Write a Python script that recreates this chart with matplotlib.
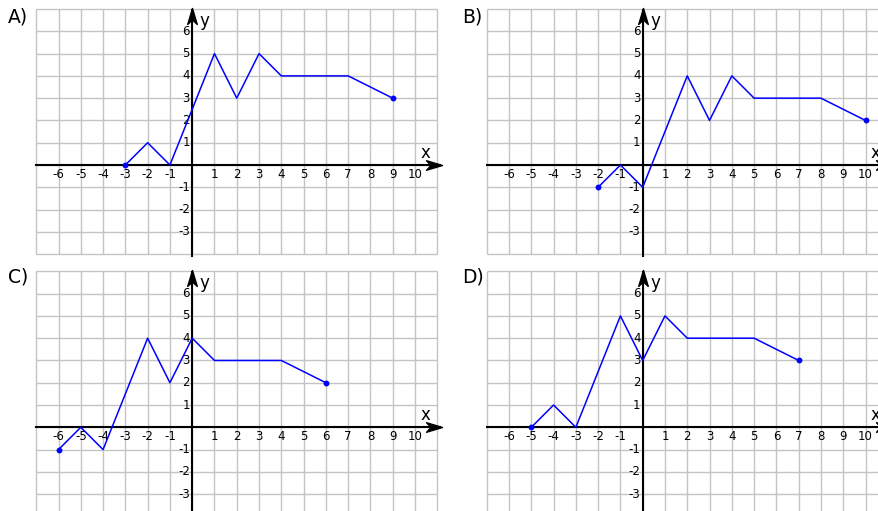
import matplotlib
matplotlib.use("Agg")
import matplotlib.pyplot as plt
import numpy as np
from matplotlib.path import Path

# piecewise-linear graphs, one per answer option
a_x = [-3, -2, -1, 1, 2, 3, 4, 7, 9]
a_y = [0, 1, 0, 5, 3, 5, 4, 4, 3]
b_x = [-2, -1, 0, 2, 3, 4, 5, 8, 10]
b_y = [-1, 0, -1, 4, 2, 4, 3, 3, 2]
c_x = [-6, -5, -4, -2, -1, 0, 1, 4, 6]
c_y = [-1, 0, -1, 4, 2, 4, 3, 3, 2]
d_x = [-5, -4, -3, -1, 0, 1, 2, 5, 7]
d_y = [0, 1, 0, 5, 3, 5, 4, 4, 3]

panel_names = ["A)", "B)", "C)", "D)"]
x_labels = [-6, -5, -4, -3, -2, -1, 1, 2, 3, 4, 5, 6, 7, 8, 9, 10]
y_labels = [-3, -2, -1, 1, 2, 3, 4, 5, 6]

W, H = 879, 511
UNIT = 22.28          # pixels per grid cell
XMIN, XMAX = -7, 11
YMIN, YMAX = -4, 7

# pixel position of the origin of each panel (from the top-left corner)
origins = [(192.2, 165.0), (642.7, 165.0), (192.2, 427.3), (642.7, 427.3)]
label_pos = [(8, 17), (461.7, 17), (8, 276.7), (461.7, 276.7)]

# stealth-style arrow heads as custom markers, tip at the marker centre
head_right = Path([(0, 0), (-1, 0.30), (-0.72, 0), (-1, -0.30), (0, 0)],
                  [Path.MOVETO, Path.LINETO, Path.LINETO, Path.LINETO, Path.CLOSEPOLY])
head_up = Path([(0, 0), (0.30, -1), (0, -0.72), (-0.30, -1), (0, 0)],
               [Path.MOVETO, Path.LINETO, Path.LINETO, Path.LINETO, Path.CLOSEPOLY])

fig = plt.figure(figsize=(W / 100, H / 100), dpi=100)
fig.patch.set_facecolor("white")


def make_panel(ox, oy, xs, ys):
    left = ox + XMIN * UNIT
    top = oy - YMAX * UNIT
    width = (XMAX - XMIN) * UNIT
    height = (YMAX - YMIN) * UNIT
    ax = fig.add_axes([left / W, 1 - (top + height) / H, width / W, height / H])
    ax.set_xlim(XMIN, XMAX)
    ax.set_ylim(YMIN, YMAX)
    ax.axis("off")

    grid_kw = dict(color="#c4c4c4", lw=1.0, clip_on=False, zorder=1)
    ax.vlines(np.arange(XMIN, XMAX + 1), YMIN, YMAX, **grid_kw)
    ax.hlines(np.arange(YMIN, YMAX + 1), XMIN, XMAX, **grid_kw)

    # coordinate axes with arrow heads
    ax.plot([XMIN, 11.1], [0, 0], color="black", lw=1.5, clip_on=False, zorder=3)
    ax.plot([0, 0], [YMIN - 0.1, 6.95], color="black", lw=1.5, clip_on=False, zorder=3)
    ax.plot([11.2], [0], marker=head_right, ms=23, color="black",
            clip_on=False, zorder=4)
    ax.plot([0], [7.05], marker=head_up, ms=23, color="black",
            clip_on=False, zorder=4)

    for v in x_labels:
        ax.text(v, -0.42, str(v), ha="center", va="center", fontsize=8.5,
                zorder=5, clip_on=False)
    for v in y_labels:
        ax.text(-0.1, v, str(v), ha="right", va="center", fontsize=8.5,
                zorder=5, clip_on=False)
    ax.text(0.55, 6.46, "y", ha="center", va="center", fontsize=12, zorder=5)
    ax.text(10.45, 0.55, "x", ha="center", va="center", fontsize=12, zorder=5)

    ax.plot(xs, ys, color="#0000ff", lw=1.1, zorder=6, clip_on=False)
    ax.plot([xs[0], xs[-1]], [ys[0], ys[-1]], "o", color="#0000ff", ms=3.2,
            zorder=7, clip_on=False)
    return ax


series = [(a_x, a_y), (b_x, b_y), (c_x, c_y), (d_x, d_y)]
for (ox, oy), (xs, ys), name, (lx, ly) in zip(origins, series, panel_names, label_pos):
    make_panel(ox, oy, xs, ys)
    fig.text(lx / W, 1 - ly / H, name, ha="left", va="center", fontsize=13.5)

plt.savefig("out.png", dpi=100)
